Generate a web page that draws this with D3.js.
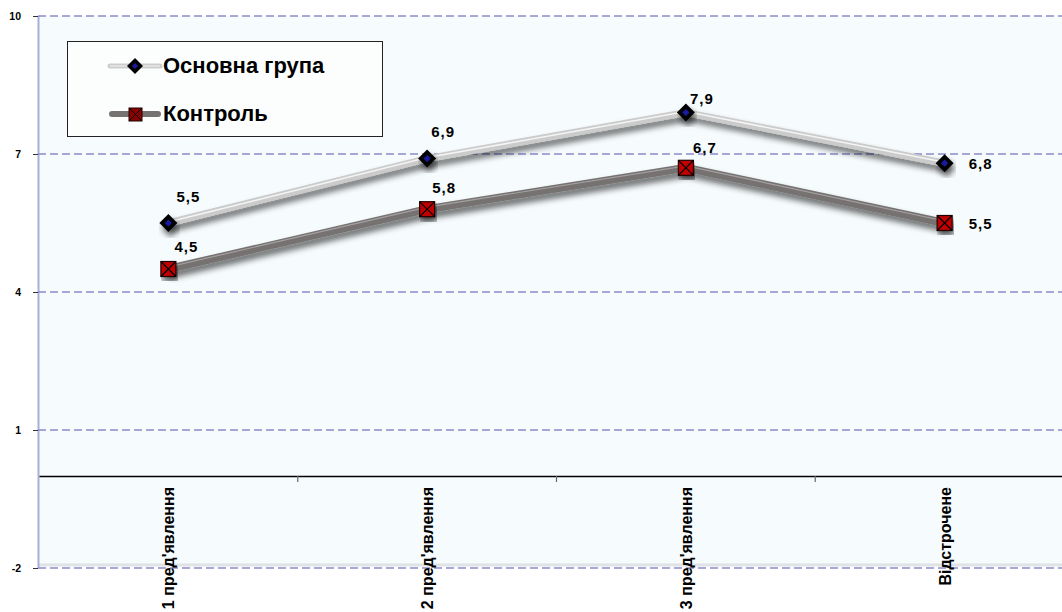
<!DOCTYPE html>
<html>
<head>
<meta charset="utf-8">
<script src="https://cdn.jsdelivr.net/npm/d3@7"></script>
<style>
  body { margin: 0; background: #fff; }
  svg { display: block; font-family: Arial, "Liberation Sans", sans-serif; }
</style>
</head>
<body>
<svg id="chart" width="1062" height="612"></svg>
<script>
var categories = ["1 пред'явлення", "2 пред'явлення", "3 пред'явлення", "Відстрочене"];
var seriesNames = ["Основна група", "Контроль"];
var mainValues = [5.5, 6.9, 7.9, 6.8];
var controlValues = [4.5, 5.8, 6.7, 5.5];
var yTicks = [-2, 1, 4, 7, 10];

var svg = d3.select("#chart");
var plot = { left: 38, top: 16, right: 1074, bottom: 568 };

var x = d3.scaleBand().domain(categories).range([plot.left + 1, plot.right]);
var y = d3.scaleLinear().domain([-2, 10]).range([plot.bottom, plot.top]);
var cx = function(i) { return x(categories[i]) + x.bandwidth() / 2; };
var fmt = function(v) { return d3.format(".1f")(v).replace(".", ","); };

var defs = svg.append("defs");
var f = defs.append("filter").attr("id", "shadow")
    .attr("x", "-10%").attr("y", "-30%").attr("width", "120%").attr("height", "160%");
f.append("feGaussianBlur").attr("in", "SourceAlpha").attr("stdDeviation", 3).attr("result", "b");
f.append("feOffset").attr("in", "b").attr("dx", 2).attr("dy", 5).attr("result", "o");
f.append("feComponentTransfer").attr("in", "o").attr("result", "s")
  .append("feFuncA").attr("type", "linear").attr("slope", 0.6);
var m = f.append("feMerge");
m.append("feMergeNode").attr("in", "s");
m.append("feMergeNode").attr("in", "SourceGraphic");

// plot area background
svg.append("rect")
    .attr("x", plot.left).attr("y", plot.top)
    .attr("width", 1062 - plot.left).attr("height", y(-2) - plot.top - 2)
    .attr("fill", "#f6fbfd");
svg.append("line")
    .attr("x1", plot.left).attr("x2", 1062)
    .attr("y1", y(-2) - 3).attr("y2", y(-2) - 3)
    .attr("stroke", "#dfe2e6").attr("stroke-width", 3);
svg.append("line")
    .attr("x1", plot.left + 0.5).attr("x2", plot.left + 0.5)
    .attr("y1", plot.top).attr("y2", y(-2))
    .attr("stroke", "#a8b0d8").attr("stroke-width", 2);

// gridlines
svg.append("g").selectAll("line")
  .data(yTicks)
  .enter().append("line")
    .attr("x1", plot.left).attr("x2", 1062)
    .attr("y1", function(d) { return y(d); })
    .attr("y2", function(d) { return y(d); })
    .attr("stroke", "#8c8ccc").attr("stroke-width", 1.5)
    .attr("stroke-dasharray", "8,4");

// y axis
var yAxis = svg.append("g")
    .attr("transform", "translate(" + plot.left + ",0)")
    .call(d3.axisLeft(y).tickValues(yTicks).tickSize(5).tickPadding(12)
      .tickFormat(function(d) { return String(d); }));
yAxis.select(".domain").remove();
yAxis.selectAll("line").attr("stroke", "#333");
yAxis.selectAll("text")
    .attr("font-family", "Arial, 'Liberation Sans', sans-serif")
    .attr("font-size", 10.5).attr("font-weight", "bold").attr("fill", "#000");

// category axis at zero
var xAxis = svg.append("g")
    .attr("transform", "translate(0," + y(0) + ")")
    .call(d3.axisBottom(x).tickSize(0).tickFormat(""));
xAxis.select(".domain").attr("stroke", "#000").attr("stroke-width", 1.5);
xAxis.selectAll(".tick").remove();
xAxis.selectAll(".sep")
  .data(categories.slice(1))
  .enter().append("line")
    .attr("x1", function(d) { return x(d); })
    .attr("x2", function(d) { return x(d); })
    .attr("y1", 0).attr("y2", 6)
    .attr("stroke", "#666").attr("stroke-width", 1.2);
xAxis.selectAll(".cat")
  .data(categories)
  .enter().append("text")
    .attr("transform", function(d) {
      return "translate(" + (x(d) + x.bandwidth() / 2 + 6) + ",11) rotate(-90)";
    })
    .attr("text-anchor", "end")
    .attr("font-size", 16).attr("font-weight", "bold").attr("fill", "#000")
    .text(function(d) { return d; });

// lines
var line = d3.line()
    .x(function(d, i) { return cx(i); })
    .y(function(d) { return y(d); });

var gMain = svg.append("g");
gMain.append("path").datum(mainValues)
    .attr("d", line).attr("fill", "none")
    .attr("stroke", "#cbcbcb").attr("stroke-width", 7)
    .attr("filter", "url(#shadow)");
gMain.append("path").datum(mainValues)
    .attr("d", line).attr("fill", "none")
    .attr("stroke", "#f4f4f4").attr("stroke-width", 1.5)
    .attr("transform", "translate(0,-1)");

var gCtrl = svg.append("g");
gCtrl.append("path").datum(controlValues)
    .attr("d", line).attr("fill", "none")
    .attr("stroke", "#767272").attr("stroke-width", 8)
    .attr("filter", "url(#shadow)");
gCtrl.append("path").datum(controlValues)
    .attr("d", line).attr("fill", "none")
    .attr("stroke", "#a4a0a0").attr("stroke-width", 1.2)
    .attr("transform", "translate(0,-2)");

// markers
function diamond(g, px, py, r) {
  g.append("path")
    .attr("d", "M" + px + "," + (py - r) + "L" + (px + r) + "," + py + "L" + px + "," + (py + r) + "L" + (px - r) + "," + py + "Z")
    .attr("fill", "#000").attr("filter", "url(#shadow)");
  var q = r * 0.4;
  g.append("path")
    .attr("d", "M" + px + "," + (py - q) + "L" + (px + q) + "," + py + "L" + px + "," + (py + q) + "L" + (px - q) + "," + py + "Z")
    .attr("fill", "#1a1aa0");
}
function square(g, px, py, s) {
  var h = s / 2;
  g.append("rect")
    .attr("x", px - h).attr("y", py - h).attr("width", s).attr("height", s)
    .attr("fill", "#c00000").attr("stroke", "#200000").attr("stroke-width", 1.2)
    .attr("filter", "url(#shadow)");
  g.append("path")
    .attr("d", "M" + (px - h) + "," + (py - h) + "L" + (px + h) + "," + (py + h) + "M" + (px + h) + "," + (py - h) + "L" + (px - h) + "," + (py + h))
    .attr("stroke", "#000").attr("stroke-width", 1.2);
}
mainValues.forEach(function(v, i) { diamond(gMain, cx(i), y(v), 9); });
controlValues.forEach(function(v, i) { square(gCtrl, cx(i), y(v), 15); });

// data labels: above for first three points, right of the last one
var mainLabelDy = [-21, -22, -9, 6];
var ctrlLabelDy = [-17, -16, -15, 6];
function labels(values, dys, dxs) {
  svg.append("g").selectAll("text")
    .data(values)
    .enter().append("text")
      .attr("x", function(d, i) { return cx(i) + dxs[i]; })
      .attr("y", function(d, i) { return y(d) + dys[i]; })
      .attr("font-size", 15).attr("font-weight", "bold").attr("fill", "#000")
      .attr("letter-spacing", 1)
      .text(fmt);
}
labels(mainValues, mainLabelDy, [8, 4, 4, 24]);
labels(controlValues, ctrlLabelDy, [6, 5, 7, 24]);

// legend
var lg = svg.append("g");
lg.append("rect")
    .attr("x", 67.5).attr("y", 41.5).attr("width", 315).attr("height", 95)
    .attr("fill", "#fcfefe").attr("stroke", "#222").attr("stroke-width", 1);
var legY = [66, 114];
lg.append("line").attr("x1", 110).attr("x2", 160).attr("y1", legY[0]).attr("y2", legY[0])
    .attr("stroke", "#cccccc").attr("stroke-width", 5).attr("stroke-linecap", "round");
lg.append("line").attr("x1", 110).attr("x2", 160).attr("y1", legY[0]).attr("y2", legY[0])
    .attr("stroke", "#f4f4f4").attr("stroke-width", 1.2);
lg.append("line").attr("x1", 112).attr("x2", 158).attr("y1", legY[1]).attr("y2", legY[1])
    .attr("stroke", "#767272").attr("stroke-width", 6).attr("stroke-linecap", "round");
var lm1 = lg.append("g");
lm1.append("path").attr("d", "M135,58L143,66L135,74L127,66Z").attr("fill", "#000");
lm1.append("path").attr("d", "M135,63L138,66L135,69L132,66Z").attr("fill", "#1a1aa0");
var lm2 = lg.append("g");
lm2.append("rect").attr("x", 129).attr("y", 108).attr("width", 13).attr("height", 13)
    .attr("fill", "#8b0000").attr("stroke", "#200000");
lm2.append("path").attr("d", "M129,108L142,121M142,108L129,121").attr("stroke", "#000").attr("stroke-width", 1);
lg.selectAll(".lt")
  .data(seriesNames)
  .enter().append("text")
    .attr("x", 163)
    .attr("y", function(d, i) { return legY[i] + 7; })
    .attr("font-size", 22).attr("font-weight", "bold").attr("fill", "#000")
    .text(function(d) { return d; });
</script>
</body>
</html>
